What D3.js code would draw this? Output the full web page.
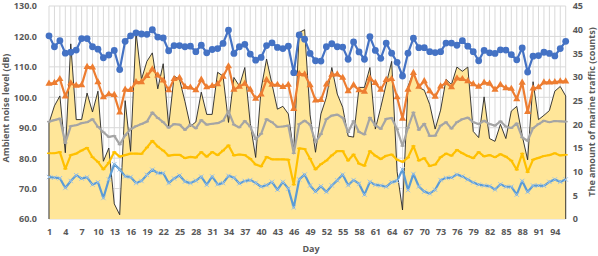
<!DOCTYPE html>
<html><head><meta charset="utf-8">
<script src="https://cdn.jsdelivr.net/npm/d3@7"></script>
<style>
body{margin:0;background:#fff}
svg{display:block}
text{font-family:"Open Sans","Noto Sans",sans-serif;}
</style>
</head><body>
<svg id="chart" width="598" height="256"></svg>
<script>
// ---------- data ----------
const days = [1,2,3,4,5,6,7,8,9,10,11,12,13,14,15,16,17,18,19,20,21,22,23,24,25,26,27,28,29,30,31,32,
33,34,35,36,37,38,39,40,41,42,43,44,45,46,47,48,49,50,51,52,53,54,55,56,57,58,59,60,61,62,63,64,
65,66,67,68,69,70,71,72,73,74,75,76,77,78,79,80,81,82,83,84,85,86,87,88,89,90,91,92,93,94,95,96];
const dayTickLabels = [1,4,7,10,13,16,19,22,25,28,31,34,37,40,43,46,49,52,55,58,61,64,67,70,73,76,79,82,85,88,91,94];
const leftTicks = [60,70,80,90,100,110,120,130];
const rightTicks = [0,5,10,15,20,25,30,35,40,45];

// marine traffic (counts, right axis)
const traffic = [20.3,23.9,26,14,37,21,21,26.6,22.6,27,12.2,15,3.2,0.9,25,14.3,
39.5,29.5,33.3,35.1,27.5,32.8,19.6,30.2,29.5,24.8,19.6,20.5,26.8,22.1,22.1,31,
30.2,20.4,29.9,28.1,32,20.2,13,27.5,33.8,28.5,23.2,23.8,22.2,14,39.4,40,
22,14.1,22.2,25.7,32,26.4,23.6,17.5,17.3,27.8,27.8,32,19,23.6,28.5,33.3,
10,1.9,28,31,27.8,27.2,24.2,19,23,29.5,28.4,32.1,31.2,32.1,18.5,17.2,
25.8,17,16.4,20,17,22.8,23.8,17.6,12.5,29,21,21.9,22.9,27,28,26];

// ambient noise levels (dB, left axis)
const noiseBlue = [120.2,116.6,118.6,114.5,114.8,115.5,119.3,119.3,116.6,115.8,113,113.9,115.4,109.1,118.4,120.2,
121.2,120.8,120.7,122.2,119.8,119.5,115.3,117,117,116.6,116.8,115,117.1,114.6,115.7,116,
117.7,122.1,114.4,116.6,117.4,114.2,112.2,113.1,117,117.9,116.4,116,116.8,108.1,120.5,119.1,
114.4,112,111.9,116.6,117.6,116.6,116.5,112.5,118.2,114.9,112.5,119.9,115.4,112.8,117.8,114.5,
111.5,107,114.5,119.4,116.3,116.3,115,114.7,115,117.8,117.8,117.1,118.6,116.8,115,112,
115.4,114.6,114.4,115.6,115.5,114,112.3,116.2,108.3,113.5,113.7,114.8,114.4,113.6,116,118.4];

const noiseOrange = [104.5,104.7,106,100.3,104.6,103.8,104,110,109.8,105,100,101,100.8,95,102.5,102.4,
105,105,107,109.2,107.2,105.5,102.3,106,106.4,103.4,103.2,102.3,105.8,103.3,103.7,104.3,
106.8,110.2,102.5,103.5,104.5,102.5,99.5,100.9,105.7,104.1,104.1,103.4,104.1,96.2,107.7,107.5,
104,99,99.1,104.2,107.4,107.5,106.4,102,104,102.3,101.8,106.2,104.7,102.5,105.7,106,
100,93,102.5,108,103.5,105.3,102,100.2,103.6,104.7,103.3,106.2,106,105.3,104.3,103.5,
104.8,104.5,102.5,104.1,103,102.8,99.4,104.8,95.2,102.9,103.3,104.9,104.9,105,105.2,105.2];

const noiseGray = [92,92.5,93,85,90.5,90.8,91.5,91.8,92.8,90.3,88.5,87,87.3,84.5,87.5,89.5,
90.5,91.2,92,95,93.2,91.8,90,91.2,91,89.3,91,89.8,92.5,91,91.3,91.5,
92.3,95.4,91,90.1,92.2,90.4,86.2,88,92.8,91.8,90.3,90.4,90.7,81.6,91.2,92.3,
91,85.3,87.9,92.8,94,94.3,93.3,88.5,92.2,88.6,87.8,93.3,90.8,89.6,92.9,93.2,
89.5,84,90,95,89.3,91.3,87.3,87.4,90.7,91.8,89.7,91.8,92.8,93.3,91.8,91.2,
92.3,91.2,90.7,92.1,90.4,89.9,91.4,86.8,85.7,89.9,91.2,92.3,91.8,92.2,92.1,92];

const noiseYellow = [81.6,81.6,82,76.5,81,81.5,82.5,83.4,80.3,78.8,76.3,78.5,82,80.5,81,81.5,
81.5,81.4,83.5,85.7,83.8,82.5,80.8,81.1,81.1,80,80.4,80.2,82,80.5,82,81,
82.5,84.2,80.9,81.2,81,79.8,77.9,77.3,80.4,79.6,79.6,79.6,79.5,71.3,83.2,83,
79.8,76.3,78,79.2,80.9,82.3,82.3,79.2,81.2,78.2,77.5,82.3,80.8,79.7,80.8,81.2,
79.5,78.8,80.2,84,79.2,80,77.4,77.9,80.3,81.5,80.8,82.7,81.6,80.7,80,82,
80.6,81,80.3,81.3,80.5,79.2,76.2,81.5,75.4,79.5,80.1,80.7,81,81.6,80.9,81.1];

const noiseLightBlue = [73.8,73.6,73.4,70.2,72.5,74.4,73.3,73.7,71.3,72.1,66.9,73,78,76.3,74,73.8,
71.8,72.5,74.5,76.2,75.1,75.1,71.8,73.3,74.3,72.3,71.8,72.6,73.9,71.2,74,71.4,
71.8,74.2,73.6,71.7,72.5,72.8,71.9,70.6,71.1,72.2,69.6,72.2,70,63.8,73,74.6,
71,69,70.8,68.9,71,72.7,74.6,71.1,72.8,71.6,68,72.2,71.2,71,70.6,72.1,
72.5,76.3,69.5,74.8,70.7,69,68.4,69.6,72.8,73.5,73.6,74.6,74,73,72,71.3,
71,70.8,69.7,71.4,70.6,70.6,68,72.5,68.9,71,71,70.9,72.2,73,72.2,73];

// ---------- layout ----------
const svg = d3.select("#chart");
const plotL = 49, plotR = 565.7, plotT = 6, plotB = 219;
const x = d3.scalePoint().domain(days).range([plotL, plotR]);
const yL = d3.scaleLinear().domain([60, 130]).range([plotB, plotT]);
const yR = d3.scaleLinear().domain([0, 45]).range([plotB, plotT]);
const txt = "#595959";

// gridlines
const grid = svg.append("g");
grid.selectAll("line.v").data(days).join("line")
  .attr("x1", d => x(d)).attr("x2", d => x(d))
  .attr("y1", plotT).attr("y2", plotB)
  .attr("stroke", "#d9d9d9").attr("stroke-width", 1);
grid.selectAll("line.h").data(leftTicks).join("line")
  .attr("x1", plotL).attr("x2", plotR)
  .attr("y1", d => yL(d)).attr("y2", d => yL(d))
  .attr("stroke", "#d9d9d9").attr("stroke-width", 1);

// traffic area
const areaData = days.map((d, i) => ({d, v: traffic[i]}));
svg.append("path").datum(areaData)
  .attr("d", d3.area().x(p => x(p.d)).y0(plotB).y1(p => yR(p.v)))
  .attr("fill", "#FFE699");
const outline = [{d: days[0], v: 0}, ...areaData, {d: days[days.length - 1], v: 0}];
svg.append("path").datum(outline)
  .attr("d", d3.line().x(p => x(p.d)).y(p => yR(p.v)))
  .attr("fill", "none").attr("stroke", "#262626").attr("stroke-width", 0.9);

// noise lines
const series = [
  {vals: noiseLightBlue, color: "#5B9BD5", marker: "x"},
  {vals: noiseYellow, color: "#FFC000", marker: "dash"},
  {vals: noiseGray, color: "#A5A5A5", marker: "dash"},
  {vals: noiseOrange, color: "#ED7D31", marker: "tri"},
  {vals: noiseBlue, color: "#4472C4", marker: "circle"}
];
const line = d3.line().x(p => x(p.d)).y(p => yL(p.v));
series.forEach(s => {
  const pts = days.map((d, i) => ({d, v: s.vals[i]}));
  const g = svg.append("g");
  g.append("path").datum(pts).attr("d", line)
    .attr("fill", "none").attr("stroke", s.color).attr("stroke-width", 2.2)
    .attr("stroke-linejoin", "round");
  if (s.marker === "circle") {
    g.selectAll("circle").data(pts).join("circle")
      .attr("cx", p => x(p.d)).attr("cy", p => yL(p.v)).attr("r", 3.4)
      .attr("fill", s.color);
  } else if (s.marker === "tri") {
    g.selectAll("path.m").data(pts).join("path")
      .attr("transform", p => `translate(${x(p.d)},${yL(p.v)})`)
      .attr("d", d3.symbol(d3.symbolTriangle, 22)).attr("fill", s.color);
  } else if (s.marker === "x") {
    g.selectAll("path.m").data(pts).join("path")
      .attr("transform", p => `translate(${x(p.d)},${yL(p.v)})`)
      .attr("d", d3.symbol(d3.symbolTimes, 14))
      .attr("fill", "none").attr("stroke", "#9DC3E6").attr("stroke-width", 1);
  } else {
    g.selectAll("line.m").data(pts).join("line")
      .attr("x1", p => x(p.d) - 2).attr("x2", p => x(p.d) + 2)
      .attr("y1", p => yL(p.v)).attr("y2", p => yL(p.v))
      .attr("stroke", s.color).attr("stroke-width", 1.5);
  }
});

// axes
const axL = svg.append("g").attr("transform", `translate(${plotL},0)`)
  .call(d3.axisLeft(yL).tickValues(leftTicks).tickFormat(d3.format(".1f")).tickSize(0).tickPadding(12));
const axR = svg.append("g").attr("transform", `translate(${plotR},0)`)
  .call(d3.axisRight(yR).tickValues(rightTicks).tickSize(0).tickPadding(7));
const axB = svg.append("g").attr("transform", `translate(0,${plotB})`)
  .call(d3.axisBottom(x).tickValues(dayTickLabels).tickSize(0).tickPadding(10));
[axL, axR, axB].forEach(a => {
  a.select(".domain").remove();
  a.selectAll("text").attr("fill", txt).attr("font-size", 9).attr("font-weight", "bold")
    .attr("font-family", '"Open Sans","Noto Sans",sans-serif');
});

// titles
svg.append("text").attr("x", 311).attr("y", 252).attr("text-anchor", "middle")
  .attr("fill", txt).attr("font-size", 9).attr("font-weight", "bold").text("Day");
svg.append("text").attr("transform", "translate(9,108) rotate(-90)")
  .attr("text-anchor", "middle").attr("fill", txt).attr("font-size", 9).attr("font-weight", "bold")
  .text("Ambient noise level (dB)");
svg.append("text").attr("transform", "translate(595,112) rotate(-90)")
  .attr("text-anchor", "middle").attr("fill", txt).attr("font-size", 9).attr("font-weight", "bold")
  .text("The amount of marine traffic (counts)");
</script>
</body></html>
